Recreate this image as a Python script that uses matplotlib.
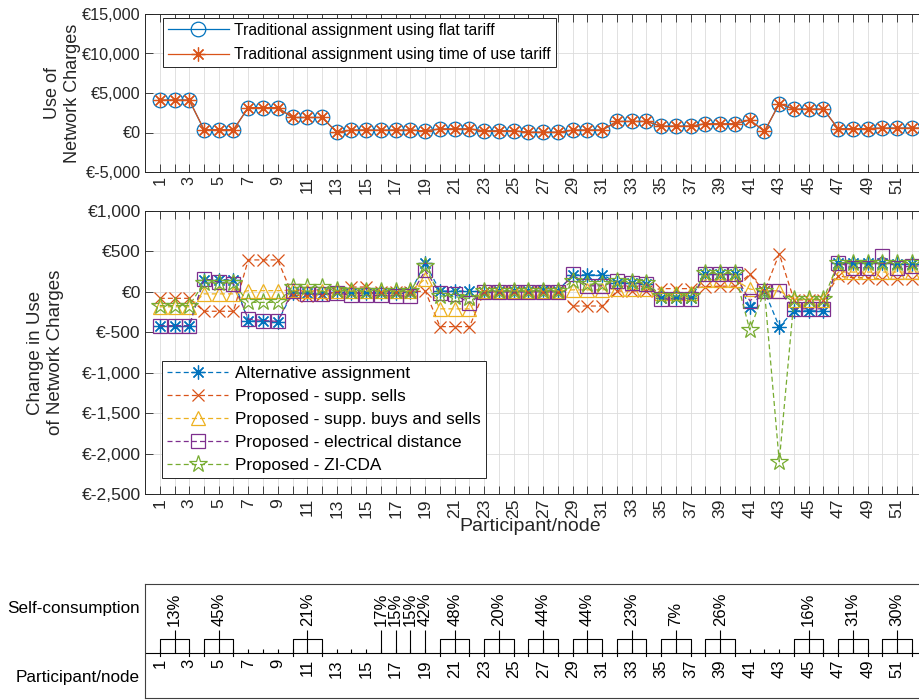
import matplotlib
matplotlib.use('Agg')
import matplotlib.pyplot as plt

plt.rcParams['font.family'] = ['Liberation Sans', 'DejaVu Sans']

# ---- data ----
participants = list(range(1, 54))

flat_tariff = [4100, 4100, 4100, 350, 350, 350, 3150, 3150, 3150, 1900, 1900, 1900,
               50, 300, 300, 280, 300, 300, 200, 450, 450, 450, 200, 200, 200,
               30, 30, 30, 300, 300, 300, 1400, 1400, 1400, 800, 800, 800,
               1100, 1100, 1100, 1600, 150, 3650, 2950, 2950, 2950,
               450, 480, 500, 550, 550, 550, 550]
tou_tariff = list(flat_tariff)  # identical to flat tariff in the figure

alt_assign = [-420, -420, -420, 150, 150, 150, -360, -360, -370, -10, -20, -30,
              0, -10, -10, -10, -10, 0, 355, 10, 10, 10, 0, 10, 10,
              10, 20, 15, 210, 210, 210, 115, 115, 95, -75, -75, -75,
              215, 215, 215, -190, 10, -430, -235, -235, -235,
              360, 360, 360, 360, 340, 340, 340]
supp_sells = [-80, -80, -80, -240, -240, -240, 395, 395, 395, -40, -50, -40,
              0, 60, 60, 0, 0, 0, 10, -430, -430, -430, 0, 0, 0,
              0, 0, 0, -175, -175, -175, 10, 10, 10, 40, 40, 40,
              65, 70, 70, 215, 10, 470, -100, -100, -100,
              195, 175, 175, 155, 155, 155, 155]
supp_both = [-185, -185, -185, -25, -25, -25, 15, 15, 15, 20, 10, 10,
             15, 10, 10, 10, 10, 10, 160, -210, -210, -210, 10, 10, 10,
             10, 10, 10, 25, 25, 25, 40, 40, 40, -20, -20, -20,
             150, 150, 150, 35, 10, 15, -95, -95, -95,
             245, 245, 245, 245, 245, 245, 245]
elec_dist = [-420, -420, -420, 160, 120, 100, -335, -355, -365, 10, -30, -30,
             -10, -45, -45, -45, -50, -50, 265, -10, -30, -140, 0, 0, 0,
             0, 0, 0, 215, 75, 75, 135, 115, 100, -90, -90, -90,
             215, 215, 215, -110, 10, 10, -210, -210, -210,
             360, 300, 300, 440, 300, 320, 320]
zi_cda = [-170, -170, -170, 110, 110, 110, -130, -130, -130, 55, 55, 55,
          20, 10, 10, 10, 10, 10, 315, -50, -60, -80, 10, 10, 10,
          10, 10, 10, 135, 95, 95, 135, 120, 115, -50, -50, -50,
          230, 230, 230, -470, 10, -2100, -90, -90, -90,
          360, 360, 360, 360, 360, 360, 360]

# self-consumption groups: first, last participant, label
sc_first = [1, 4, 10, 16, 17, 18, 19, 20, 23, 26, 29, 32, 35, 38, 44, 47, 50]
sc_last = [3, 6, 12, 16, 17, 18, 19, 22, 25, 28, 31, 34, 37, 40, 46, 49, 52]
sc_label = ['13%', '45%', '21%', '17%', '15%', '15%', '42%', '48%', '20%', '44%',
            '44%', '23%', '7%', '26%', '16%', '31%', '30%']

top_yticks = [-5000, 0, 5000, 10000, 15000]
top_ylabels = ['€-5,000', '€0', '€5,000', '€10,000', '€15,000']
mid_yticks = [-2500, -2000, -1500, -1000, -500, 0, 500, 1000]
mid_ylabels = ['€-2,500', '€-2,000', '€-1,500', '€-1,000', '€-500', '€0', '€500', '€1,000']

# ---- styling ----
C_BLUE, C_ORANGE, C_YELLOW, C_PURPLE, C_GREEN = '#0072BD', '#D95319', '#EDB120', '#7E2F8E', '#77AC30'
AX_COL = '#262626'
ASTER = (8, 2, 0)

W, H = 920.0, 700.0
fig = plt.figure(figsize=(9.2, 7.0), dpi=100)
axw = 53 * 14.75 / W
ax1 = fig.add_axes([145 / W, 1 - 172 / H, axw, 158 / H])
ax2 = fig.add_axes([145 / W, 1 - 494 / H, axw, 283 / H])
ax3 = fig.add_axes([145 / W, 1 - 698 / H, axw, 114 / H])

xlabels = [str(p) if (p % 2 and p <= 51) else '' for p in participants]


def style_axis(ax, yt, yl, fs):
    ax.set_xlim(0, 53)
    ax.set_xticks(participants)
    ax.set_xticklabels(xlabels, rotation=90, fontsize=fs)
    ax.set_yticks(yt)
    ax.set_yticklabels(yl, fontsize=fs)
    ax.set_ylim(yt[0], yt[-1])
    ax.tick_params(direction='in', top=True, right=True, length=5.5, width=0.6,
                   color=AX_COL, labelcolor=AX_COL, pad=3)
    ax.grid(True, color='#dcdcdc', lw=0.6)
    ax.set_axisbelow(True)
    for s in ax.spines.values():
        s.set_color(AX_COL)
        s.set_linewidth(0.7)


# top panel
ax1.plot(participants, flat_tariff, '-', color=C_BLUE, lw=0.9, marker='o', ms=10.5,
         mfc='none', mew=0.9, label='Traditional assignment using flat tariff')
ax1.plot(participants, tou_tariff, '-', color=C_ORANGE, lw=0.9, marker=ASTER, ms=10,
         mew=0.9, label='Traditional assignment using time of use tariff')
style_axis(ax1, top_yticks, top_ylabels, 11.7)
ax1.set_ylabel('Use of\nNetwork Charges', fontsize=13, color=AX_COL, labelpad=1)
leg1 = ax1.legend(loc='upper left', bbox_to_anchor=(0.023, 0.975), fontsize=11.3,
                  handlelength=3.9, fancybox=False, framealpha=1, borderpad=0.3,
                  labelspacing=0.6, handletextpad=0.35, borderaxespad=0)
leg1.get_frame().set_edgecolor(AX_COL)
leg1.get_frame().set_linewidth(0.7)

# middle panel
dash = (4, 2.5)
series = [
    (alt_assign, C_BLUE, ASTER, 10, 'Alternative assignment'),
    (supp_sells, C_ORANGE, 'x', 9, 'Proposed - supp. sells'),
    (supp_both, C_YELLOW, '^', 10.5, 'Proposed - supp. buys and sells'),
    (elec_dist, C_PURPLE, 's', 9.5, 'Proposed - electrical distance'),
    (zi_cda, C_GREEN, '*', 13, 'Proposed - ZI-CDA'),
]
for vals, col, mk, ms, lab in series:
    ax2.plot(participants, vals, '--', dashes=dash, color=col, lw=0.9, marker=mk, ms=ms,
             mfc='none', mew=0.9, label=lab)
style_axis(ax2, mid_yticks, mid_ylabels, 12.6)
ax2.set_ylabel('Change in Use\nof Network Charges', fontsize=13.5, color=AX_COL, labelpad=13)
ax2.set_xlabel('Participant/node', fontsize=14, color=AX_COL, labelpad=0)
ax2.xaxis.label.set_x((530 - 145) / (53 * 14.75))
leg2 = ax2.legend(loc='lower left', bbox_to_anchor=(0.022, 0.057), fontsize=12.4,
                  handlelength=3.5, fancybox=False, framealpha=1, borderpad=0.3,
                  labelspacing=0.45, handletextpad=0.45, borderaxespad=0)
leg2.get_frame().set_edgecolor(AX_COL)
leg2.get_frame().set_linewidth(0.7)

# bottom panel: self-consumption groups
ax3.set_xlim(0, 53)
ax3.set_ylim(-45, 69)
ax3.set_xticks([])
ax3.set_yticks([46, -23])
ax3.set_yticklabels(['Self-consumption', 'Participant/node'], fontsize=12.3)
ax3.tick_params(axis='y', length=0, pad=4)
for s in ax3.spines.values():
    s.set_color('#404040')
    s.set_linewidth(0.8)
ax3.axhline(0, color='k', lw=0.8)
ax3.vlines(participants, 0, 4, color='k', lw=0.8)
for p in participants:
    if p % 2 and p <= 51:
        ax3.text(p, -6, str(p), rotation=90, ha='center', va='top', fontsize=12)
for a, b, lab in zip(sc_first, sc_last, sc_label):
    mid = (a + b) / 2
    if a != b:
        ax3.plot([a, a, b, b], [-3, 14, 14, -3], color='k', lw=0.8)
    ax3.vlines(mid, 0, 23, color='k', lw=0.8)
    ax3.text(mid, 27, lab, rotation=90, ha='center', va='bottom', fontsize=12)

fig.savefig('out.png', dpi=100)
